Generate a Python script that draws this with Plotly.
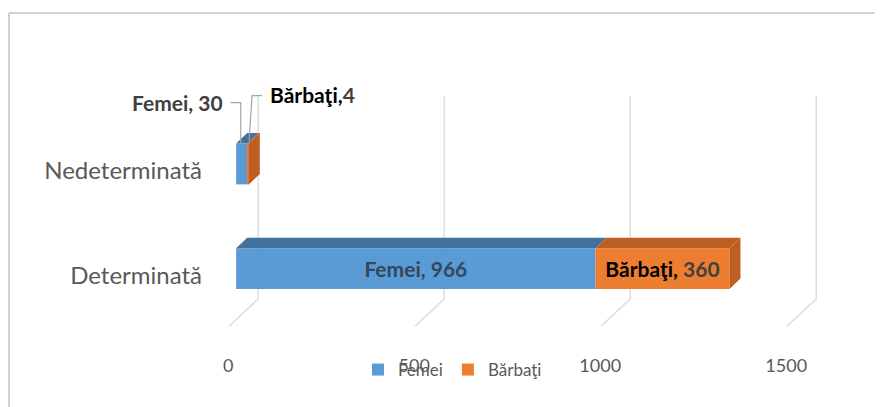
import plotly.graph_objects as go

# ---------------- data ----------------
categories = ["Determinată", "Nedeterminată"]
series_names = ["Femei", "Bărbaţi"]
femei = [966, 30]
barbati = [360, 4]
x_ticks = [0, 500, 1000, 1500]

# ---------------- style ----------------
PAGE_OFF = 8                 # browser default body margin
W, H = 883 - PAGE_OFF, 407 - PAGE_OFF
# plot area edges in page pixels
P_LEFT, P_RIGHT, P_TOP, P_BOTTOM = 225, 850, 90, 335
ML = P_LEFT - PAGE_OFF
MR = W - (P_RIGHT - PAGE_OFF)
MT = P_TOP - PAGE_OFF
MB = H - (P_BOTTOM - PAGE_OFF)
X_RANGE = [-30, 1650]
Y_RANGE = [-0.636, 1.708]
BAR_W = 0.39
FONT = "Lato"
GRAY = "#595959"
DARK = "#404040"
colors_front = ["#5B9BD5", "#ED7D31"]
colors_top = ["#41719C", "#BE5F22"]
GRID_COLOR = "#D9D9D9"

plot_w = W - ML - MR
plot_h = H - MT - MB
sx = plot_w / (X_RANGE[1] - X_RANGE[0])   # px per x unit
sy = plot_h / (Y_RANGE[1] - Y_RANGE[0])   # px per y unit

def dx_px(p):
    return p / sx

def dy_px(p):
    return p / sy

def page_to_paper_x(p):
    return (p - PAGE_OFF - ML) / plot_w

def page_to_paper_y(p):
    return (H - MB - (p - PAGE_OFF)) / plot_h

DEPTH_X = dx_px(11)
DEPTH_Y = dy_px(10.5)

yvals = list(range(len(categories)))
series_vals = [femei, barbati]

fig = go.Figure()

# front faces
label_colors = ["#36465A", DARK]
for i, (name, vals) in enumerate(zip(series_names, series_vals)):
    base = [sum(series_vals[k][j] for k in range(i)) for j in range(len(vals))]
    if i == 0:
        texts = [f"<b>{name}, {v}</b>" if v > 100 else "" for v in vals]
    else:
        texts = [f"<b><span style='color:#000000'>{name},</span> {v}</b>" if v > 100 else "" for v in vals]
    fig.add_trace(go.Bar(
        y=yvals, x=vals, base=base, name=name, orientation="h",
        width=BAR_W, marker=dict(color=colors_front[i], line=dict(width=0)),
        text=texts, textposition="inside", insidetextanchor="middle",
        textangle=0, constraintext="none",
        textfont=dict(family=FONT, size=21, color=label_colors[i]),
        hoverinfo="skip",
    ))

shapes = []

# 3D gridlines (back wall vertical + floor diagonal)
floor_front_y = Y_RANGE[0] + dy_px(9)
floor_back_y = floor_front_y + dy_px(27)
top_y = Y_RANGE[1] - dy_px(6)
for t in x_ticks:
    xf = t - dx_px(7)
    xb = xf + dx_px(29)
    shapes.append(dict(type="path", xref="x", yref="y",
                       path=f"M {xf} {floor_front_y} L {xb} {floor_back_y} L {xb} {top_y}",
                       line=dict(color=GRID_COLOR, width=1.3), layer="below"))

# top faces and end side faces
for j, y in enumerate(yvals):
    cum = 0
    total = sum(series_vals[k][j] for k in range(len(series_vals)))
    for i, vals in enumerate(series_vals):
        x0, x1 = cum, cum + vals[j]
        yt = y + BAR_W / 2
        shapes.append(dict(type="path", xref="x", yref="y",
                           path=f"M {x0} {yt} L {x1} {yt} L {x1 + DEPTH_X} {yt + DEPTH_Y} L {x0 + DEPTH_X} {yt + DEPTH_Y} Z",
                           fillcolor=colors_top[i], line=dict(width=0), layer="above"))
        cum = x1
    last = len(series_vals) - 1
    yb = y - BAR_W / 2
    yt = y + BAR_W / 2
    shapes.append(dict(type="path", xref="x", yref="y",
                       path=f"M {total} {yb} L {total} {yt} L {total + DEPTH_X} {yt + DEPTH_Y} L {total + DEPTH_X} {yb + DEPTH_Y} Z",
                       fillcolor=colors_top[last], line=dict(width=0), layer="above"))

# outside labels for small category (Nedeterminată)
annotations = []
j = 1
yt = yvals[j] + BAR_W / 2
fx = femei[j] / 2
bx = femei[j] + barbati[j] / 2
annotations.append(dict(x=fx, y=yt, xref="x", yref="y", showarrow=False,
                        text=f"<b>{series_names[0]}, {femei[j]}</b>",
                        xanchor="right", yanchor="middle", xshift=-17, yshift=41,
                        font=dict(family=FONT, size=21, color=DARK)))
annotations.append(dict(x=bx, y=yt, xref="x", yref="y", showarrow=False,
                        text=f"<b><span style='color:#000000'>{series_names[1]},</span>{barbati[j]}</b>",
                        xanchor="left", yanchor="middle", xshift=20, yshift=49,
                        font=dict(family=FONT, size=21, color=DARK)))
# leader lines
shapes.append(dict(type="path", xref="x", yref="y", xsizemode="pixel", ysizemode="pixel",
                   xanchor=fx, yanchor=yt,
                   path="M -11 41 L -1 41 L -1 0",
                   line=dict(color="#A6A6A6", width=1.2), layer="above"))
shapes.append(dict(type="path", xref="x", yref="y", xsizemode="pixel", ysizemode="pixel",
                   xanchor=bx, yanchor=yt,
                   path="M 14 48 L 4 48 L 1 3",
                   line=dict(color="#A6A6A6", width=1.2), layer="above"))

# chart border (top and left edges visible)
shapes.append(dict(type="line", xref="paper", yref="paper",
                   x0=page_to_paper_x(PAGE_OFF + 1), x1=page_to_paper_x(900),
                   y0=page_to_paper_y(13), y1=page_to_paper_y(13),
                   line=dict(color="#D0D0D0", width=2)))
shapes.append(dict(type="line", xref="paper", yref="paper",
                   x0=page_to_paper_x(PAGE_OFF + 1), x1=page_to_paper_x(PAGE_OFF + 1),
                   y0=page_to_paper_y(13), y1=page_to_paper_y(420),
                   line=dict(color="#D0D0D0", width=2)))

fig.update_layout(
    width=W, height=H,
    margin=dict(l=ML, r=MR, t=MT, b=MB),
    barmode="overlay",
    paper_bgcolor="white", plot_bgcolor="white",
    shapes=shapes, annotations=annotations,
    font=dict(family=FONT, color=GRAY),
    showlegend=True,
    legend=dict(orientation="h", x=page_to_paper_x(358), y=page_to_paper_y(352),
                xanchor="left", yanchor="top", bgcolor="rgba(0,0,0,0)",
                font=dict(family=FONT, size=17, color=GRAY),
                itemwidth=30, traceorder="normal"),
    xaxis=dict(range=X_RANGE, tickvals=x_ticks, ticktext=[str(t) for t in x_ticks],
               showgrid=False, zeroline=False, showline=False,
               tickfont=dict(family=FONT, size=18, color=GRAY),
               ticks="", ticklabelstandoff=18, ticklabelshift=-8, fixedrange=True),
    yaxis=dict(range=Y_RANGE, tickvals=yvals, ticktext=categories,
               showgrid=False, zeroline=False, showline=False,
               tickfont=dict(family=FONT, size=24, color=GRAY),
               ticks="", ticklabelstandoff=22, ticklabelshift=7, fixedrange=True),
)

fig.write_html("out.html")
